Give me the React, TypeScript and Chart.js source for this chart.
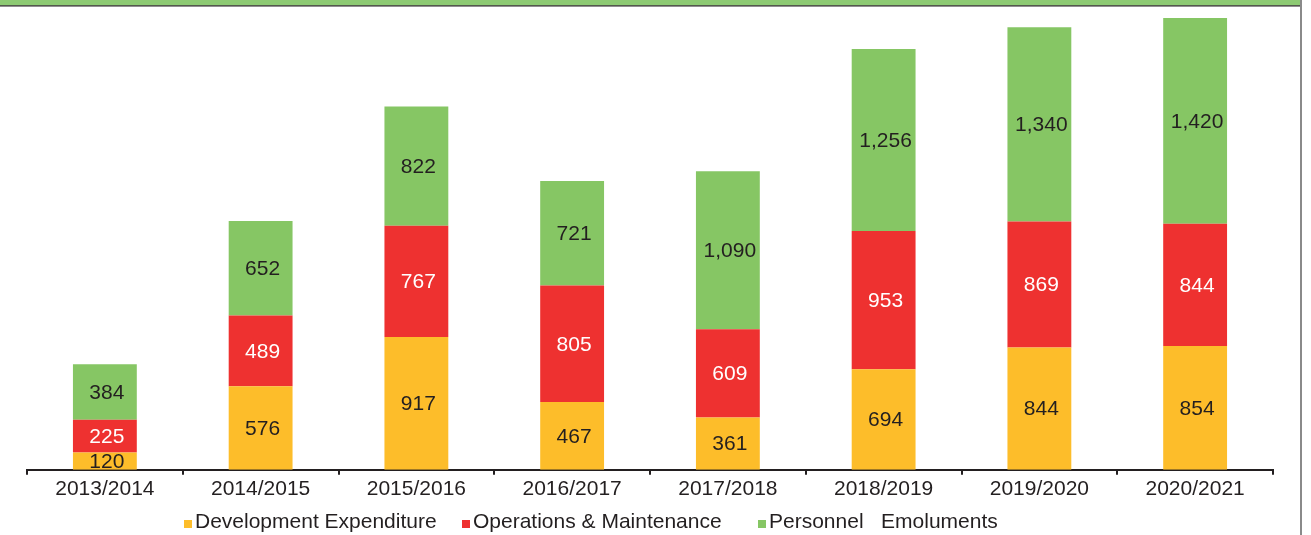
import React, { useEffect, useRef } from "react";
import { Chart, registerables } from "chart.js";

Chart.register(...registerables);

const categories = [
  "2013/2014",
  "2014/2015",
  "2015/2016",
  "2016/2017",
  "2017/2018",
  "2018/2019",
  "2019/2020",
  "2020/2021",
];
const developmentExpenditure = [120, 576, 917, 467, 361, 694, 844, 854];
const operationsMaintenance = [225, 489, 767, 805, 609, 953, 869, 844];
const personnelEmoluments = [384, 652, 822, 721, 1090, 1256, 1340, 1420];
const seriesNames = [
  "Development Expenditure",
  "Operations & Maintenance",
  "Personnel   Emoluments",
];

const COLORS = ["#FDBD2A", "#EE3130", "#86C664"];
const LABEL_COLORS = ["#231F20", "#FFFFFF", "#231F20"];
const FONT = "'Liberation Sans', Arial, sans-serif";
const W = 1311;
const H = 535;

const framePlugin = {
  id: "frame",
  beforeDraw(chart: any) {
    const ctx = chart.ctx;
    ctx.save();
    ctx.fillStyle = "#FFFFFF";
    ctx.fillRect(0, 0, chart.width, chart.height);
    ctx.fillStyle = "#8DCA73";
    ctx.fillRect(0, 0, 1300, 5.5);
    ctx.fillStyle = "#231F20";
    ctx.fillRect(0, 5.3, 1301, 1.2);
    ctx.fillStyle = "#8A8A8A";
    ctx.fillRect(1300, 0, 2, chart.height);
    ctx.restore();
  },
};

const valueLabelPlugin = {
  id: "valueLabels",
  afterDatasetsDraw(chart: any) {
    const ctx = chart.ctx;
    ctx.save();
    ctx.font = `21px ${FONT}`;
    ctx.textAlign = "center";
    ctx.textBaseline = "middle";
    chart.data.datasets.forEach((ds: any, di: number) => {
      const meta = chart.getDatasetMeta(di);
      meta.data.forEach((bar: any, i: number) => {
        const v = ds.data[i];
        const cy = (bar.y + bar.base) / 2;
        ctx.fillStyle = LABEL_COLORS[di];
        ctx.fillText(Number(v).toLocaleString("en-US"), bar.x + 2, cy + 1);
      });
    });
    ctx.restore();
  },
};

const legendPlugin = {
  id: "customLegend",
  afterDraw(chart: any) {
    const ctx = chart.ctx;
    const xs = [184, 462, 758];
    const baseline = 528;
    ctx.save();
    ctx.font = `21px ${FONT}`;
    ctx.textAlign = "left";
    ctx.textBaseline = "alphabetic";
    seriesNames.forEach((name, i) => {
      ctx.fillStyle = COLORS[i];
      ctx.fillRect(xs[i], baseline - 8, 8, 8);
      ctx.fillStyle = "#231F20";
      ctx.fillText(name, xs[i] + 11, baseline);
    });
    ctx.restore();
  },
};

export default function App() {
  const canvasRef = useRef<HTMLCanvasElement | null>(null);

  useEffect(() => {
    document.body.style.margin = "0";
    const canvas = canvasRef.current;
    if (!canvas) return;
    const chart = new Chart(canvas, {
      type: "bar",
      data: {
        labels: categories,
        datasets: [
          {
            label: seriesNames[0],
            data: developmentExpenditure,
            backgroundColor: COLORS[0],
            barPercentage: 0.41,
            categoryPercentage: 1,
          },
          {
            label: seriesNames[1],
            data: operationsMaintenance,
            backgroundColor: COLORS[1],
            barPercentage: 0.41,
            categoryPercentage: 1,
          },
          {
            label: seriesNames[2],
            data: personnelEmoluments,
            backgroundColor: COLORS[2],
            barPercentage: 0.41,
            categoryPercentage: 1,
          },
        ],
      },
      options: {
        responsive: false,
        animation: false,
        devicePixelRatio: 1,
        layout: {
          padding: { left: 27, right: W - 1273, top: 6, bottom: 31 },
        },
        plugins: {
          legend: { display: false },
          tooltip: { enabled: false },
          title: { display: false },
        },
        scales: {
          x: {
            stacked: true,
            offset: true,
            grid: {
              offset: true,
              drawOnChartArea: false,
              drawTicks: true,
              tickLength: 5,
              color: "#231F20",
              lineWidth: 2,
            },
            border: { display: true, color: "#231F20", width: 2 },
            ticks: {
              color: "#231F20",
              padding: 2,
              font: { family: FONT, size: 21 },
              maxRotation: 0,
              autoSkip: false,
            },
          },
          y: {
            stacked: true,
            display: false,
            min: 0,
            max: 3200,
          },
        },
      },
      plugins: [framePlugin, valueLabelPlugin, legendPlugin],
    });
    return () => chart.destroy();
  }, []);

  return (
    <div style={{ width: W, height: H, position: "relative" }}>
      <canvas ref={canvasRef} width={W} height={H} style={{ display: "block" }} />
    </div>
  );
}
